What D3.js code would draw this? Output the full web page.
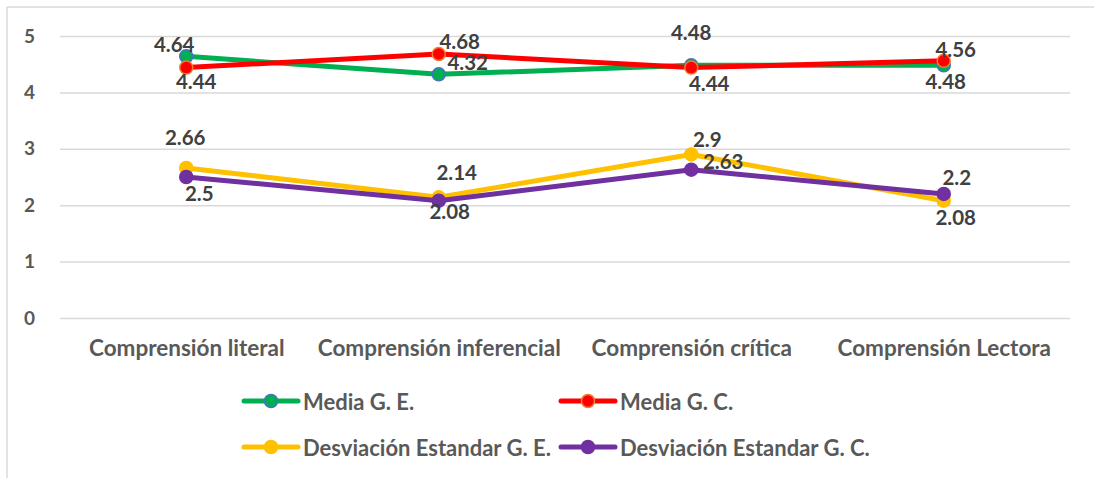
<!DOCTYPE html>
<html>
<head>
<meta charset="utf-8">
<script src="https://cdn.jsdelivr.net/npm/d3@7"></script>
<style>
  body { margin: 0; background: #fff; }
  svg { display: block; font-family: Lato, "Open Sans", sans-serif; font-weight: bold; }
</style>
</head>
<body>
<svg id="chart" width="1094" height="478"></svg>
<script>
const categories = ["Comprensión literal", "Comprensión inferencial", "Comprensión crítica", "Comprensión Lectora"];
const mediaGE = [4.64, 4.32, 4.48, 4.48];
const mediaGC = [4.44, 4.68, 4.44, 4.56];
const desvGE = [2.66, 2.14, 2.9, 2.08];
const desvGC = [2.5, 2.08, 2.63, 2.2];
const yTicks = [0, 1, 2, 3, 4, 5];
const seriesNames = ["Media G. E.", "Media G. C.", "Desviación Estandar G. E.", "Desviación Estandar G. C."];

const series = [
  { name: seriesNames[0], values: mediaGE, color: "#00B050", edge: "#4472C4" },
  { name: seriesNames[1], values: mediaGC, color: "#FF0000", edge: "#ED7D31" },
  { name: seriesNames[2], values: desvGE, color: "#FFC000", edge: "#FFC000" },
  { name: seriesNames[3], values: desvGC, color: "#7030A0", edge: "#7030A0" }
];

// where each data label sits relative to its marker (label centre)
const labelShift = [
  [[-12, -12], [29, -12], [0, -33], [2, 16]],
  [[10, 13], [21, -13], [18, 15], [12, -12]],
  [[-1, -31], [18, -25], [16, -15], [12, 16]],
  [[13, 16], [11, 10], [32, -9], [13, -17]]
];

const svg = d3.select("#chart");
const plotLeft = 60, plotRight = 1070, plotTop = 36, plotBottom = 318;

// outer frame (only top and left edges visible)
svg.append("line").attr("x1", 7).attr("x2", 1094).attr("y1", 7).attr("y2", 7)
  .attr("stroke", "#D9D9D9").attr("stroke-width", 1.5);
svg.append("line").attr("x1", 7).attr("x2", 7).attr("y1", 7).attr("y2", 478)
  .attr("stroke", "#D9D9D9").attr("stroke-width", 1.5);

const x = d3.scalePoint().domain(categories).range([plotLeft, plotRight]).padding(0.5);
const y = d3.scaleLinear().domain([0, 5]).range([plotBottom, plotTop]);

// y axis + gridlines
const yAxis = svg.append("g")
  .attr("transform", `translate(${plotLeft},0)`)
  .call(d3.axisLeft(y).tickValues(yTicks).tickFormat(d3.format("d"))
    .tickSize(-(plotRight - plotLeft)).tickPadding(25));
yAxis.select(".domain").remove();
yAxis.selectAll(".tick line").attr("stroke", "#D9D9D9").attr("stroke-width", 1.5);
yAxis.selectAll(".tick text").attr("fill", "#595959").style("font-size", "19px")
  .style("font-family", "Lato, sans-serif").style("font-weight", "bold");

// x axis labels
const xAxis = svg.append("g")
  .attr("transform", `translate(0,${plotBottom})`)
  .call(d3.axisBottom(x).tickSize(0).tickPadding(22));
xAxis.select(".domain").remove();
xAxis.selectAll(".tick text").attr("fill", "#595959").style("font-size", "22.5px")
  .style("font-family", "Lato, sans-serif").style("font-weight", "bold");

const line = d3.line()
  .x((d, i) => x(categories[i]))
  .y((d) => y(d));

series.forEach((s) => {
  svg.append("path").datum(s.values)
    .attr("d", line).attr("fill", "none")
    .attr("stroke", s.color).attr("stroke-width", 5)
    .attr("stroke-linejoin", "round").attr("stroke-linecap", "round");
  svg.selectAll(null).data(s.values).enter().append("circle")
    .attr("cx", (d, i) => x(categories[i]))
    .attr("cy", (d) => y(d))
    .attr("r", 6.5)
    .attr("fill", s.color)
    .attr("stroke", s.edge).attr("stroke-width", 1.5);
});

// data labels on top of everything
series.forEach((s, k) => {
  svg.selectAll(null).data(s.values).enter().append("text")
    .attr("x", (d, i) => x(categories[i]) + labelShift[k][i][0])
    .attr("y", (d, i) => y(d) + labelShift[k][i][1])
    .attr("text-anchor", "middle")
    .attr("dominant-baseline", "central")
    .attr("fill", "#404040")
    .style("font-size", "20.5px")
    .text((d) => d);
});

// legend
const legendPos = [[271, 401], [588, 401], [271, 447], [588, 447]];
series.forEach((s, k) => {
  const g = svg.append("g").attr("transform", `translate(${legendPos[k][0]},${legendPos[k][1]})`);
  g.append("line").attr("x1", -27).attr("x2", 27)
    .attr("stroke", s.color).attr("stroke-width", 5).attr("stroke-linecap", "round");
  g.append("circle").attr("r", 6.5).attr("fill", s.color)
    .attr("stroke", s.edge).attr("stroke-width", 1.5);
  g.append("text").attr("x", 32).attr("dominant-baseline", "central")
    .attr("fill", "#595959").style("font-size", "22px").text(s.name);
});
</script>
</body>
</html>
